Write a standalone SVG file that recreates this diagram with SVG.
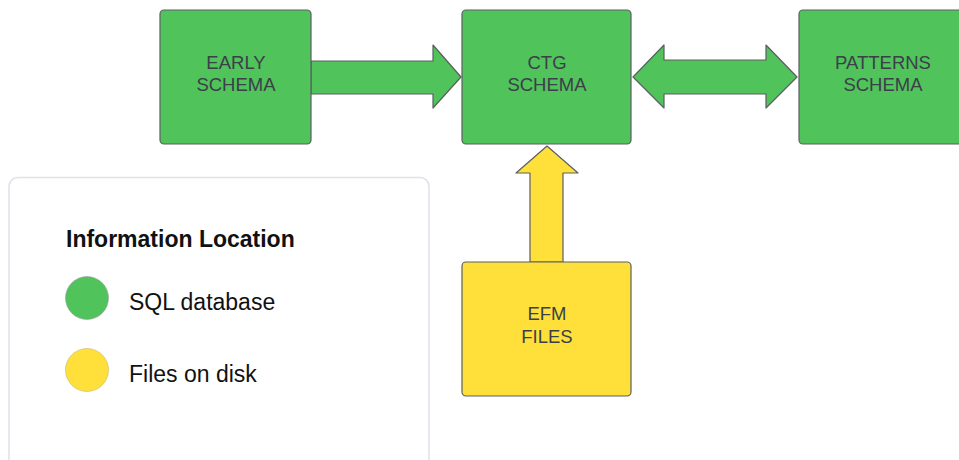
<svg xmlns="http://www.w3.org/2000/svg" width="959" height="460" viewBox="0 0 959 460">
<style>
.g{fill:#50c35b;stroke:#5a5f62;stroke-width:1.2;stroke-linejoin:round}
.y{fill:#ffe03b;stroke:#5a5f62;stroke-width:1.2;stroke-linejoin:round}
.lbl{font-family:"Liberation Sans",Arial,sans-serif;font-size:18.5px;fill:#3b4048;text-anchor:middle}
.leg{font-family:"Liberation Sans",Arial,sans-serif;font-size:23px;fill:#111}
</style>
<rect width="959" height="460" fill="#fff"/>
<g id="connectors">
<path class="g" d="M311,61 L433,61 L433,45 L461,77 L433,108 L433,94 L311,94 Z"/>
<path class="g" d="M633,77 L664,45 L664,60 L766,60 L766,45 L797,77 L766,108 L766,94 L664,94 L664,108 Z"/>
<path class="y" d="M547,146 L578,173 L563,173 L563,262 L530,262 L530,173 L516,173 Z"/>
</g>
<g id="early">
<rect class="g" x="160" y="10" width="151" height="134" rx="4"/>
<text class="lbl" x="236" y="69">EARLY</text>
<text class="lbl" x="236" y="91">SCHEMA</text>
</g>
<g id="ctg">
<rect class="g" x="462" y="10" width="169" height="134" rx="4"/>
<text class="lbl" x="547" y="69">CTG</text>
<text class="lbl" x="547" y="91">SCHEMA</text>
</g>
<g id="patterns">
<rect class="g" x="799" y="10" width="169" height="134" rx="4"/>
<text class="lbl" x="883" y="69">PATTERNS</text>
<text class="lbl" x="883" y="91">SCHEMA</text>
</g>
<g id="efm">
<rect class="y" x="462" y="262" width="169" height="134" rx="4"/>
<text class="lbl" x="547" y="320">EFM</text>
<text class="lbl" x="547" y="343">FILES</text>
</g>
<g id="legend">
<rect x="9" y="177.5" width="420" height="300" rx="9" fill="#fff" stroke="#dde1e8" stroke-width="1.5"/>
<text x="66" y="247" font-family="'Liberation Sans',Arial,sans-serif" font-size="23" font-weight="bold" fill="#111">Information Location</text>
<circle cx="87" cy="298" r="21.5" fill="#50c35b" stroke="#9aa0a6" stroke-width="0.6"/>
<text class="leg" x="129" y="310">SQL database</text>
<circle cx="87" cy="370" r="21.5" fill="#ffe03b" stroke="#c8b86a" stroke-width="0.6"/>
<text class="leg" x="129" y="382">Files on disk</text>
</g>
</svg>
